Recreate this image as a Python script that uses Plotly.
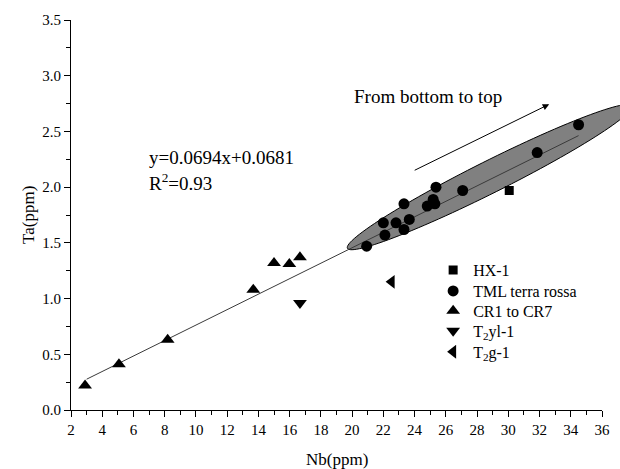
import numpy as np
import plotly.graph_objects as go

# ---- sample data: Nb vs Ta (ppm) ----
hx_nb = [30.06]
hx_ta = [1.97]

tml_nb = [20.93, 22.10, 22.00, 22.81, 23.32, 23.66, 23.32, 24.81, 25.19, 25.30, 25.37, 27.08, 31.85, 34.50]
tml_ta = [1.47, 1.57, 1.68, 1.68, 1.62, 1.71, 1.85, 1.83, 1.89, 1.85, 2.00, 1.97, 2.31, 2.56]

cr_nb = [2.90, 5.07, 8.19, 13.67, 15.00, 15.98, 16.66]
cr_ta = [0.22, 0.41, 0.63, 1.08, 1.32, 1.31, 1.37]

t2yl_nb = [16.66]
t2yl_ta = [0.96]

t2g_nb = [22.53]
t2g_ta = [1.15]

# linear fit reported on the chart
slope, intercept, r2 = 0.0694, 0.0681, 0.93
fit_x = [3.0, 34.5]

# ellipse around the terra rossa samples (centre, half-axis vectors in data units)
ell_center = (28.8, 2.09)
ell_major = (9.10, 0.639)
ell_minor = (-0.46, 0.128)

# trend arrow
arrow_start = (23.91, 2.145)
arrow_end = (32.62, 2.744)

x_range = [2, 36]
y_range = [0, 3.5]

FONT = "Liberation Serif, Times New Roman, serif"

fig = go.Figure()

# regression line
fx = np.array(fit_x)
fig.add_trace(go.Scatter(
    x=fx, y=slope * fx + intercept, mode="lines",
    line=dict(color="#3a3a3a", width=1), showlegend=False, hoverinfo="skip"))

mk = dict(color="black", line=dict(width=0))
series = [
    ("HX-1", hx_nb, hx_ta, "square", 9, "legend"),
    ("TML terra rossa", tml_nb, tml_ta, "circle", 11, "legend2"),
    ("CR1 to CR7", cr_nb, cr_ta, "triangle-up", 12, "legend3"),
    ("T<sub>2</sub>yl-1", t2yl_nb, t2yl_ta, "triangle-down", 12, "legend4"),
    ("T<sub>2</sub>g-1", t2g_nb, t2g_ta, "triangle-left", 12, "legend5"),
]
for name, xs, ys, sym, size, leg in series:
    fig.add_trace(go.Scatter(x=xs, y=ys, mode="markers", name=name, legend=leg,
                             marker=dict(symbol=sym, size=size, **mk)))

# ellipse drawn in paper coordinates so it can run past the axis end
t = np.linspace(0, 2 * np.pi, 121)
ex = ell_center[0] + np.cos(t) * ell_major[0] + np.sin(t) * ell_minor[0]
ey = ell_center[1] + np.cos(t) * ell_major[1] + np.sin(t) * ell_minor[1]
px = (ex - x_range[0]) / (x_range[1] - x_range[0])
py = (ey - y_range[0]) / (y_range[1] - y_range[0])
path = "M " + " L ".join(f"{a:.5f},{b:.5f}" for a, b in zip(px, py)) + " Z"
fig.add_shape(type="path", path=path, xref="paper", yref="paper",
              fillcolor="#808080", line=dict(color="black", width=1), layer="below")

fig.add_annotation(x=arrow_end[0], y=arrow_end[1], ax=arrow_start[0], ay=arrow_start[1],
                   xref="x", yref="y", axref="x", ayref="y", text="",
                   showarrow=True, arrowhead=2, arrowsize=1.3, arrowwidth=1, arrowcolor="black")

txt_font = dict(family=FONT, size=19, color="black")
fig.add_annotation(x=20.0, y=2.81, xref="x", yref="y", text="From bottom to top",
                   showarrow=False, xanchor="left", yanchor="middle", font=txt_font)
fig.add_annotation(x=6.85, y=2.27, xref="x", yref="y",
                   text=f"y={slope}x+{intercept}",
                   showarrow=False, xanchor="left", yanchor="middle", font=txt_font)
fig.add_annotation(x=6.85, y=2.05, xref="x", yref="y",
                   text=f"R<sup>2</sup>={r2}",
                   showarrow=False, xanchor="left", yanchor="middle", font=txt_font)

# axis titles
title_font = dict(family=FONT, size=17, color="black")
fig.add_annotation(x=0.501, y=-0.128, xref="paper", yref="paper", text="Nb(ppm)",
                   showarrow=False, xanchor="center", yanchor="middle", font=title_font)
fig.add_annotation(x=-0.081, y=0.5, xref="paper", yref="paper", text="Ta(ppm)",
                   textangle=-90, showarrow=False, xanchor="center", yanchor="middle",
                   font=title_font)

axis_common = dict(
    showline=True, linecolor="black", linewidth=1, mirror=False, automargin=False,
    showgrid=False, zeroline=False, ticks="outside", ticklen=6, tickwidth=1,
    tickcolor="black", tickfont=dict(family=FONT, size=15, color="black"),
)

fig.update_xaxes(range=x_range, dtick=2, tick0=2,
                 minor=dict(dtick=1, ticks="outside", ticklen=4, tickcolor="black", tickwidth=1),
                 **axis_common)
fig.update_yaxes(range=y_range, dtick=0.5, tick0=0, tickformat=".1f",
                 minor=dict(dtick=0.25, ticks="outside", ticklen=4, tickcolor="black", tickwidth=1),
                 **axis_common)

# one single-entry legend per series so the rows sit at fixed heights
leg_font = dict(family=FONT, size=16, color="black")
leg_rows = {"legend": 0.359, "legend2": 0.305, "legend3": 0.254,
            "legend4": 0.203, "legend5": 0.149}
legends = {k: dict(x=0.682, y=v, xanchor="left", yanchor="middle", font=leg_font,
                   bgcolor="rgba(0,0,0,0)")
           for k, v in leg_rows.items()}

fig.update_layout(
    width=620, height=469,
    margin=dict(l=71, r=18, t=20, b=59),
    plot_bgcolor="white", paper_bgcolor="white",
    font=dict(family=FONT, color="black"),
    **legends,
)

fig.write_html("out.html")
